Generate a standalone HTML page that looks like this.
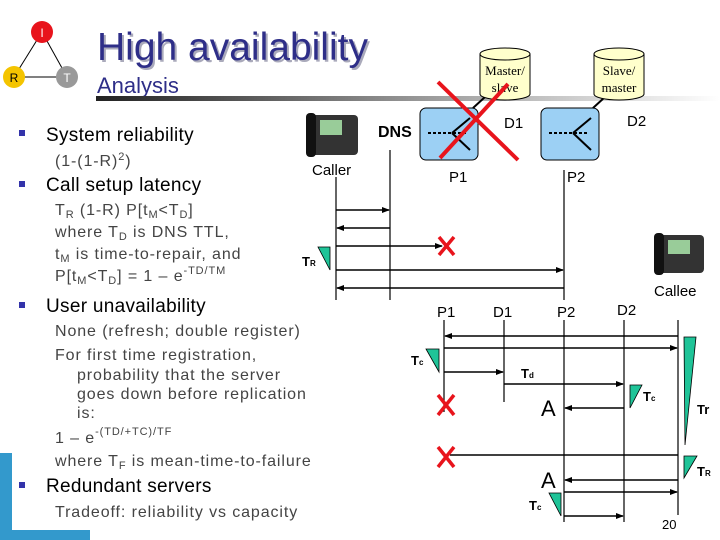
<!DOCTYPE html>
<html><head><meta charset="utf-8"><style>
body{margin:0;width:720px;height:540px;overflow:hidden;background:#fff}
svg{display:block;font-family:"Liberation Sans",sans-serif}
</style></head><body>
<svg width="720" height="540" viewBox="0 0 720 540" xmlns="http://www.w3.org/2000/svg">
<defs>
<linearGradient id="bar" x1="0" x2="1"><stop offset="0" stop-color="#222"/><stop offset="0.6" stop-color="#aaa"/><stop offset="1" stop-color="#fff"/></linearGradient>
<marker id="ah" markerWidth="8" markerHeight="6" refX="7" refY="3" orient="auto" markerUnits="userSpaceOnUse"><path d="M0,0 L8,3 L0,6 z" fill="#000"/></marker>
</defs>
<line x1="42" y1="32" x2="14" y2="77" stroke="#000"/><line x1="42" y1="32" x2="67" y2="77" stroke="#000"/><line x1="14" y1="77" x2="67" y2="77" stroke="#000"/>
<circle cx="42" cy="32" r="11" fill="#e8141c"/><circle cx="14" cy="77" r="11" fill="#f4c400"/><circle cx="67" cy="77" r="11" fill="#999"/>
<text x="42" y="37" font-size="12" fill="#fff" text-anchor="middle">I</text>
<text x="14" y="82" font-size="12" fill="#000" text-anchor="middle">R</text>
<text x="67" y="82" font-size="12" fill="#fff" text-anchor="middle">T</text>
<text x="99" y="62" font-size="39" fill="#aab">High availability</text>
<text x="97" y="60" font-size="39" fill="#2e2e88">High availability</text>
<text x="97" y="93" font-size="22" fill="#2e2e88">Analysis</text>
<rect x="96" y="96" width="624" height="5" fill="url(#bar)"/>
<g fill="#3333aa"><rect x="19" y="130" width="6" height="6"/><rect x="19" y="181" width="6" height="6"/><rect x="19" y="302" width="6" height="6"/><rect x="19" y="482" width="6" height="6"/></g>
<g font-size="19" fill="#000" letter-spacing="0.3">
<text x="46" y="141">System reliability</text>
<text x="46" y="191">Call setup latency</text>
<text x="46" y="312">User unavailability</text>
<text x="46" y="492">Redundant servers</text>
</g>
<g font-size="16" fill="#444" letter-spacing="0.9">
<text x="55" y="166">(1-(1-R)<tspan font-size="11" dy="-6">2</tspan><tspan dy="6">)</tspan></text>
<text x="55" y="215">T<tspan font-size="11" dy="3">R</tspan><tspan dy="-3"> (1-R) P[t</tspan><tspan font-size="11" dy="3">M</tspan><tspan dy="-3">&lt;T</tspan><tspan font-size="11" dy="3">D</tspan><tspan dy="-3">]</tspan></text>
<text x="55" y="237">where T<tspan font-size="11" dy="3">D</tspan><tspan dy="-3"> is DNS TTL,</tspan></text>
<text x="55" y="259">t<tspan font-size="11" dy="3">M</tspan><tspan dy="-3"> is time-to-repair, and</tspan></text>
<text x="55" y="281">P[t<tspan font-size="11" dy="3">M</tspan><tspan dy="-3">&lt;T</tspan><tspan font-size="11" dy="3">D</tspan><tspan dy="-3">] = 1 – e</tspan><tspan font-size="11" dy="-7">-TD/TM</tspan></text>
<text x="55" y="336">None (refresh; double register)</text>
<text x="55" y="360">For first time registration,</text>
<text x="77" y="380">probability that the server</text>
<text x="77" y="399">goes down before replication</text>
<text x="77" y="418">is:</text>
<text x="55" y="443">1 – e<tspan font-size="11" dy="-8">-(TD/+TC)/TF</tspan></text>
<text x="55" y="466">where T<tspan font-size="11" dy="3">F</tspan><tspan dy="-3"> is mean-time-to-failure</tspan></text>
<text x="55" y="517">Tradeoff: reliability vs capacity</text>
</g>
<rect x="0" y="453" width="12" height="87" fill="#3399cc"/>
<rect x="12" y="530" width="78" height="10" fill="#3399cc"/>
<g><rect x="308" y="115" width="50" height="40" rx="4" fill="#333"/><rect x="320" y="120" width="22" height="15" fill="#9c9"/><rect x="306" y="113" width="10" height="44" rx="4" fill="#111"/></g>
<g><rect x="656" y="235" width="48" height="38" rx="4" fill="#333"/><rect x="668" y="240" width="22" height="14" fill="#9c9"/><rect x="654" y="233" width="10" height="42" rx="4" fill="#111"/></g>
<text x="312" y="175" font-size="15" fill="#000">Caller</text>
<text x="654" y="296" font-size="15" fill="#000">Callee</text>
<text x="378" y="137" font-size="16" font-weight="bold">DNS</text>
<rect x="420" y="108" width="58" height="52" rx="6" fill="#9cd0f4" stroke="#000"/>
<rect x="541" y="108" width="58" height="52" rx="6" fill="#9cd0f4" stroke="#000"/>
<g stroke="#000" stroke-width="2"><line x1="428" y1="133" x2="468" y2="133" stroke-dasharray="3,2"/><line x1="452" y1="133" x2="470" y2="118"/><line x1="452" y1="133" x2="470" y2="150"/>
<line x1="549" y1="133" x2="589" y2="133" stroke-dasharray="3,2"/><line x1="573" y1="133" x2="591" y2="118"/><line x1="573" y1="133" x2="591" y2="150"/>
<line x1="473" y1="108" x2="485" y2="97"/><line x1="593" y1="108" x2="605" y2="97"/></g>
<g fill="#ffffcc" stroke="#000"><path d="M480,54 v40 a25,6 0 0 0 50,0 v-40"/><ellipse cx="505" cy="54" rx="25" ry="6"/>
<path d="M594,54 v40 a25,6 0 0 0 50,0 v-40"/><ellipse cx="619" cy="54" rx="25" ry="6"/></g>
<g font-family="Liberation Serif,serif" font-size="13" text-anchor="middle"><text x="505" y="75">Master/</text><text x="505" y="92">slave</text><text x="619" y="75">Slave/</text><text x="619" y="92">master</text></g>
<g stroke="#e8141c" stroke-width="4"><line x1="438" y1="82" x2="518" y2="160"/><line x1="508" y1="84" x2="440" y2="158"/></g>
<g font-size="15"><text x="504" y="128">D1</text><text x="627" y="126">D2</text><text x="449" y="182">P1</text><text x="567" y="182">P2</text>
<text x="437" y="317">P1</text><text x="493" y="317">D1</text><text x="557" y="317">P2</text><text x="617" y="315">D2</text></g>
<g stroke="#000" stroke-width="1.2"><line x1="336" y1="177" x2="336" y2="300"/><line x1="390" y1="150" x2="390" y2="300"/><line x1="564" y1="170" x2="564" y2="300"/>
<line x1="444" y1="320" x2="444" y2="412"/><line x1="504" y1="320" x2="504" y2="402"/><line x1="564" y1="320" x2="564" y2="522"/><line x1="624" y1="320" x2="624" y2="522"/><line x1="678" y1="320" x2="678" y2="515"/></g>
<g stroke="#000" stroke-width="1.5" marker-end="url(#ah)">
<line x1="336" y1="210" x2="389" y2="210"/><line x1="390" y1="228" x2="337" y2="228"/><line x1="336" y1="246" x2="442" y2="246"/>
<line x1="336" y1="270" x2="563" y2="270"/><line x1="564" y1="288" x2="337" y2="288"/>
<line x1="678" y1="336" x2="445" y2="336"/><line x1="444" y1="348" x2="677" y2="348"/><line x1="444" y1="372" x2="503" y2="372"/>
<line x1="504" y1="384" x2="623" y2="384"/><line x1="624" y1="408" x2="565" y2="408"/>
<line x1="678" y1="480" x2="565" y2="480"/><line x1="564" y1="492" x2="677" y2="492"/><line x1="564" y1="516" x2="623" y2="516"/></g>
<line x1="678" y1="455" x2="450" y2="455" stroke="#000" stroke-width="1.5"/>
<g stroke="#e8141c" stroke-width="3.5"><path d="M439,237 l15,18 M454,237 l-15,18"/><path d="M438,395 l16,20 M454,395 l-16,20"/><path d="M438,447 l16,20 M454,447 l-16,20"/></g>
<g fill="#1fc498" stroke="#000" stroke-width="0.8">
<path d="M318,247 L330,247 L330,270 z"/><path d="M426,349 L439,349 L439,372 z"/><path d="M630,408 L642,385 L630,385 z"/>
<path d="M684,337 L696,337 L685,445 z"/><path d="M684,478 L697,456 L684,456 z"/><path d="M549,493 L561,493 L561,516 z"/></g>
<g font-size="13" font-weight="bold"><text x="302" y="266">T<tspan font-size="8">R</tspan></text><text x="411" y="365">T<tspan font-size="8">c</tspan></text>
<text x="521" y="378">T<tspan font-size="8">d</tspan></text><text x="643" y="401">T<tspan font-size="8">c</tspan></text><text x="697" y="414">Tr</text>
<text x="697" y="476">T<tspan font-size="8">R</tspan></text><text x="529" y="510">T<tspan font-size="8">c</tspan></text></g>
<g font-size="22"><text x="541" y="416">A</text><text x="541" y="488">A</text></g>
<text x="662" y="529" font-size="13">20</text>
</svg>
</body></html>
